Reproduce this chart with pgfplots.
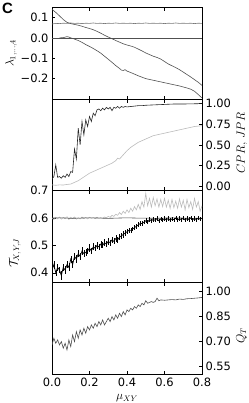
\documentclass[border=0pt]{standalone}
\usepackage{pgfplots}
\pgfplotsset{compat=1.18}
\usepackage{fontspec}
\setmainfont{DejaVu Sans}
\newfontfamily\boldlab{Liberation Sans}
\definecolor{dgray}{HTML}{505050}
\definecolor{lgray}{HTML}{BBBBBB}
\definecolor{mgray}{HTML}{777777}
\pgfplotsset{panel/.style={
  scale only axis, width=150bp, height=91.7bp,
  xmin=0, xmax=0.8, xtick={0,0.2,0.4,0.6,0.8}, xticklabels={},
  tick align=inside, major tick length=3.5bp,
  axis line style={line width=0.8bp},
  every tick/.style={black, line width=0.6bp},
  tick label style={font=\fontsize{11.5}{13}\selectfont},
  label style={font=\fontsize{11.5}{14}\selectfont},
  /pgf/number format/assume math mode=true,
  scaled y ticks=false,
}}
\begin{document}
\begin{tikzpicture}
\path[use as bounding box] (-52bp,7.3bp) rectangle (197bp,-395.7bp);
% ---------- panel 1
\begin{axis}[panel, name=a1, at={(0,0)}, anchor=north west,
  ymin=-0.3, ymax=0.15, ytick={-0.2,-0.1,0,0.1},
  yticklabels={−0.2,−0.1,0.0,0.1}, ytick pos=left,
  ylabel={$\lambda_{1,\ldots,4}$},
  ylabel style={at={(axis description cs:-0.273,0.5)}, anchor=center}]
\addplot[mgray, line width=0.6bp] coordinates {
(0.00,0.068)(0.02,0.071)(0.04,0.070)(0.06,0.072)(0.08,0.071)(0.10,0.073)(0.12,0.071)(0.14,0.072)(0.16,0.070)(0.18,0.072)(0.20,0.071)(0.22,0.073)(0.24,0.071)(0.26,0.072)(0.28,0.070)(0.30,0.072)(0.32,0.071)(0.34,0.073)(0.36,0.071)(0.38,0.072)(0.40,0.071)(0.42,0.072)(0.44,0.070)(0.46,0.072)(0.48,0.071)(0.50,0.073)(0.52,0.071)(0.54,0.072)(0.56,0.071)(0.58,0.072)(0.60,0.070)(0.62,0.072)(0.64,0.071)(0.66,0.073)(0.68,0.071)(0.70,0.072)(0.72,0.071)(0.74,0.072)(0.76,0.070)(0.78,0.072)(0.80,0.071)};
\addplot[dgray, line width=0.6bp] coordinates {(0,0)(0.8,0)};
\addplot[dgray, line width=0.6bp] coordinates {
(0.00,0.140)(0.02,0.125)(0.04,0.108)(0.06,0.090)(0.08,0.076)(0.10,0.070)(0.12,0.066)(0.14,0.062)(0.16,0.057)(0.18,0.051)(0.20,0.046)(0.22,0.040)(0.24,0.032)(0.26,0.023)(0.28,0.013)(0.30,0.004)(0.32,-0.004)(0.34,-0.013)(0.36,-0.021)(0.38,-0.029)(0.40,-0.035)(0.42,-0.040)(0.44,-0.046)(0.46,-0.055)(0.48,-0.064)(0.50,-0.074)(0.52,-0.082)(0.54,-0.090)(0.56,-0.096)(0.58,-0.104)(0.60,-0.116)(0.62,-0.128)(0.64,-0.137)(0.66,-0.146)(0.68,-0.156)(0.70,-0.168)(0.72,-0.180)(0.74,-0.192)(0.76,-0.205)(0.78,-0.218)(0.80,-0.233)};
\addplot[dgray, line width=0.6bp] coordinates {
(0.04,0.000)(0.06,0.001)(0.08,0.006)(0.09,0.004)(0.10,0.000)(0.12,-0.006)(0.14,-0.013)(0.16,-0.022)(0.18,-0.033)(0.20,-0.042)(0.22,-0.052)(0.24,-0.063)(0.26,-0.075)(0.28,-0.090)(0.30,-0.105)(0.32,-0.120)(0.34,-0.136)(0.36,-0.150)(0.37,-0.158)(0.38,-0.160)(0.39,-0.156)(0.40,-0.163)(0.42,-0.170)(0.44,-0.178)(0.46,-0.186)(0.48,-0.193)(0.50,-0.200)(0.52,-0.204)(0.54,-0.208)(0.56,-0.212)(0.58,-0.216)(0.60,-0.220)(0.62,-0.224)(0.64,-0.228)(0.66,-0.232)(0.68,-0.236)(0.70,-0.241)(0.72,-0.246)(0.74,-0.252)(0.76,-0.262)(0.78,-0.278)(0.80,-0.295)};
\end{axis}
% ---------- panel 2
\begin{axis}[panel, name=a2, at={(a1.south west)}, anchor=north west,
  ymin=-0.05, ymax=1.05, ytick={0,0.25,0.5,0.75,1},
  yticklabel style={/pgf/number format/.cd, fixed, fixed zerofill, precision=2},
  ytick pos=right, yticklabel pos=right,
  ylabel={$CPR,\,JPR$},
  ylabel style={at={(axis description cs:1.267,0.52)}, anchor=center}]
\addplot[lgray, line width=0.6bp] coordinates {
(0.00,0.02)(0.02,0.015)(0.04,0.02)(0.06,0.018)(0.08,0.025)(0.10,0.03)(0.12,0.05)(0.14,0.07)(0.16,0.10)(0.18,0.13)(0.20,0.16)(0.22,0.18)(0.24,0.20)(0.26,0.22)(0.28,0.24)(0.30,0.26)(0.32,0.28)(0.34,0.31)(0.35,0.34)(0.36,0.33)(0.38,0.38)(0.40,0.43)(0.42,0.47)(0.44,0.50)(0.46,0.53)(0.48,0.55)(0.50,0.57)(0.52,0.59)(0.54,0.61)(0.56,0.62)(0.58,0.63)(0.60,0.64)(0.62,0.65)(0.64,0.66)(0.66,0.67)(0.68,0.68)(0.70,0.69)(0.72,0.70)(0.74,0.71)(0.76,0.72)(0.78,0.725)(0.80,0.73)};
\addplot[black!85, line width=0.6bp] coordinates {
(0.00,0.09)(0.01,0.12)(0.02,0.26)(0.03,0.11)(0.04,0.12)(0.05,0.10)(0.06,0.13)(0.07,0.11)(0.08,0.15)(0.09,0.12)(0.10,0.18)(0.11,0.17)(0.12,0.45)(0.13,0.33)(0.14,0.70)(0.15,0.50)(0.16,0.78)(0.17,0.62)(0.18,0.80)(0.19,0.72)(0.20,0.84)(0.21,0.78)(0.22,0.88)(0.23,0.85)(0.24,0.92)(0.25,0.93)(0.26,0.91)(0.27,0.94)(0.28,0.92)(0.29,0.95)(0.30,0.93)(0.31,0.95)(0.32,0.91)(0.33,0.95)(0.34,0.94)(0.35,0.96)(0.36,0.94)(0.37,0.96)(0.38,0.95)(0.39,0.96)(0.40,0.955)(0.42,0.96)(0.44,0.965)(0.46,0.97)(0.48,0.97)(0.50,0.975)(0.55,0.98)(0.60,0.985)(0.65,0.99)(0.70,0.99)(0.75,0.992)(0.80,0.995)};
\end{axis}
% ---------- panel 3
\begin{axis}[panel, name=a3, at={(a2.south west)}, anchor=north west,
  ymin=0.365, ymax=0.7, ytick={0.4,0.5,0.6,0.7},
  yticklabel style={/pgf/number format/.cd, fixed, fixed zerofill, precision=1},
  ytick pos=left,
  ylabel={$\mathcal{T}_{X,Y,J}$},
  ylabel style={at={(axis description cs:-0.247,0.32)}, anchor=center}]
\addplot[lgray, line width=0.6bp] coordinates {
(0.00,0.600)(0.01,0.595)(0.02,0.603)(0.03,0.597)(0.04,0.604)(0.05,0.596)(0.06,0.602)(0.07,0.598)(0.08,0.605)(0.09,0.595)(0.10,0.603)(0.11,0.598)(0.12,0.604)(0.13,0.596)(0.14,0.601)(0.15,0.597)(0.16,0.604)(0.17,0.598)(0.18,0.602)(0.19,0.597)(0.20,0.603)(0.21,0.599)(0.22,0.601)(0.23,0.598)(0.24,0.603)(0.25,0.600)(0.26,0.602)(0.27,0.599)(0.28,0.604)(0.29,0.601)(0.30,0.606)(0.31,0.603)(0.32,0.610)(0.33,0.606)(0.34,0.614)(0.35,0.610)(0.36,0.620)(0.37,0.613)(0.38,0.625)(0.39,0.617)(0.40,0.630)(0.41,0.620)(0.42,0.636)(0.43,0.625)(0.44,0.642)(0.45,0.630)(0.46,0.650)(0.47,0.632)(0.48,0.660)(0.49,0.640)(0.50,0.690)(0.51,0.645)(0.52,0.672)(0.53,0.640)(0.54,0.675)(0.55,0.645)(0.56,0.670)(0.57,0.640)(0.58,0.668)(0.59,0.642)(0.60,0.672)(0.61,0.640)(0.62,0.665)(0.63,0.635)(0.64,0.668)(0.65,0.638)(0.66,0.662)(0.67,0.636)(0.68,0.670)(0.69,0.640)(0.70,0.665)(0.71,0.630)(0.72,0.668)(0.73,0.638)(0.74,0.660)(0.75,0.632)(0.76,0.672)(0.77,0.640)(0.78,0.660)(0.79,0.625)(0.80,0.645)};
\addplot[dgray, line width=0.6bp] coordinates {
(0.00,0.600)(0.05,0.601)(0.10,0.599)(0.15,0.600)(0.20,0.601)(0.25,0.600)(0.30,0.599)(0.35,0.600)(0.40,0.601)(0.45,0.600)(0.50,0.600)(0.55,0.599)(0.60,0.600)(0.65,0.601)(0.70,0.600)(0.75,0.599)(0.80,0.600)};
\addplot[black, line width=0.7bp, error bars/.cd, y dir=both, y explicit, error mark=none,
  error bar style={line width=0.5bp, black}] table[x=x, y=y, y error=e] {
x y e
0.00 0.410 0.012
0.01 0.430 0.015
0.02 0.400 0.012
0.03 0.420 0.014
0.04 0.410 0.012
0.05 0.390 0.015
0.06 0.420 0.013
0.07 0.410 0.014
0.08 0.430 0.012
0.09 0.420 0.015
0.10 0.450 0.013
0.11 0.430 0.014
0.12 0.460 0.012
0.13 0.450 0.015
0.14 0.470 0.013
0.15 0.460 0.012
0.16 0.480 0.014
0.17 0.470 0.012
0.18 0.475 0.013
0.19 0.480 0.012
0.20 0.490 0.014
0.21 0.480 0.012
0.22 0.495 0.013
0.23 0.490 0.012
0.24 0.500 0.013
0.25 0.495 0.012
0.26 0.505 0.013
0.27 0.500 0.011
0.28 0.510 0.012
0.29 0.505 0.011
0.30 0.515 0.012
0.31 0.510 0.011
0.32 0.520 0.012
0.33 0.515 0.011
0.34 0.525 0.012
0.35 0.520 0.011
0.36 0.530 0.011
0.37 0.535 0.010
0.38 0.540 0.011
0.39 0.545 0.010
0.40 0.550 0.010
0.41 0.555 0.010
0.42 0.555 0.010
0.43 0.560 0.009
0.44 0.565 0.010
0.45 0.570 0.009
0.46 0.575 0.009
0.47 0.580 0.009
0.48 0.580 0.009
0.49 0.585 0.008
0.50 0.590 0.009
0.51 0.585 0.008
0.52 0.595 0.008
0.53 0.590 0.008
0.54 0.595 0.008
0.55 0.592 0.008
0.56 0.598 0.008
0.57 0.590 0.008
0.58 0.597 0.008
0.59 0.592 0.008
0.60 0.598 0.008
0.61 0.593 0.008
0.62 0.599 0.008
0.63 0.592 0.008
0.64 0.597 0.008
0.65 0.594 0.008
0.66 0.600 0.008
0.67 0.593 0.008
0.68 0.598 0.008
0.69 0.594 0.008
0.70 0.600 0.008
0.71 0.593 0.008
0.72 0.598 0.008
0.73 0.595 0.008
0.74 0.601 0.008
0.75 0.594 0.008
0.76 0.599 0.008
0.77 0.594 0.008
0.78 0.600 0.008
0.79 0.596 0.008
0.80 0.599 0.008
};
\end{axis}
% ---------- panel 4
\begin{axis}[panel, name=a4, at={(a3.south west)}, anchor=north west,
  ymin=0.505, ymax=1.055, ytick={0.55,0.70,0.85,1.00},
  yticklabel style={/pgf/number format/.cd, fixed, fixed zerofill, precision=2},
  ytick pos=right, yticklabel pos=right,
  xticklabels={0.0,0.2,0.4,0.6,0.8},
  xlabel={$\mu_{XY}$},
  xlabel style={yshift=-1bp},
  ylabel={$Q_T$},
  ylabel style={at={(axis description cs:1.263,0.42)}, anchor=center}]
\addplot[dgray, line width=0.6bp] coordinates {
(0.00,0.68)(0.01,0.72)(0.02,0.69)(0.03,0.71)(0.04,0.68)(0.05,0.70)(0.06,0.66)(0.07,0.69)(0.08,0.65)(0.09,0.71)(0.10,0.67)(0.11,0.74)(0.12,0.70)(0.13,0.76)(0.14,0.72)(0.15,0.77)(0.16,0.74)(0.17,0.78)(0.18,0.75)(0.19,0.79)(0.20,0.77)(0.21,0.80)(0.22,0.78)(0.23,0.81)(0.24,0.79)(0.25,0.82)(0.26,0.80)(0.27,0.83)(0.28,0.80)(0.29,0.82)(0.30,0.84)(0.31,0.82)(0.32,0.85)(0.33,0.83)(0.34,0.86)(0.35,0.84)(0.36,0.87)(0.37,0.85)(0.38,0.88)(0.39,0.86)(0.40,0.89)(0.41,0.88)(0.42,0.90)(0.43,0.89)(0.44,0.91)(0.45,0.90)(0.46,0.92)(0.47,0.91)(0.48,0.93)(0.49,0.92)(0.50,0.945)(0.51,0.93)(0.52,0.935)(0.53,0.94)(0.54,0.935)(0.55,0.94)(0.56,0.96)(0.57,0.945)(0.58,0.95)(0.60,0.948)(0.62,0.95)(0.64,0.952)(0.66,0.95)(0.68,0.955)(0.70,0.953)(0.72,0.957)(0.74,0.958)(0.76,0.96)(0.78,0.962)(0.80,0.965)};
\end{axis}
\node[anchor=north west, inner sep=0pt, font=\boldlab\bfseries\fontsize{15}{15}\selectfont] at (-50bp,4bp) {C};
\end{tikzpicture}
\end{document}
